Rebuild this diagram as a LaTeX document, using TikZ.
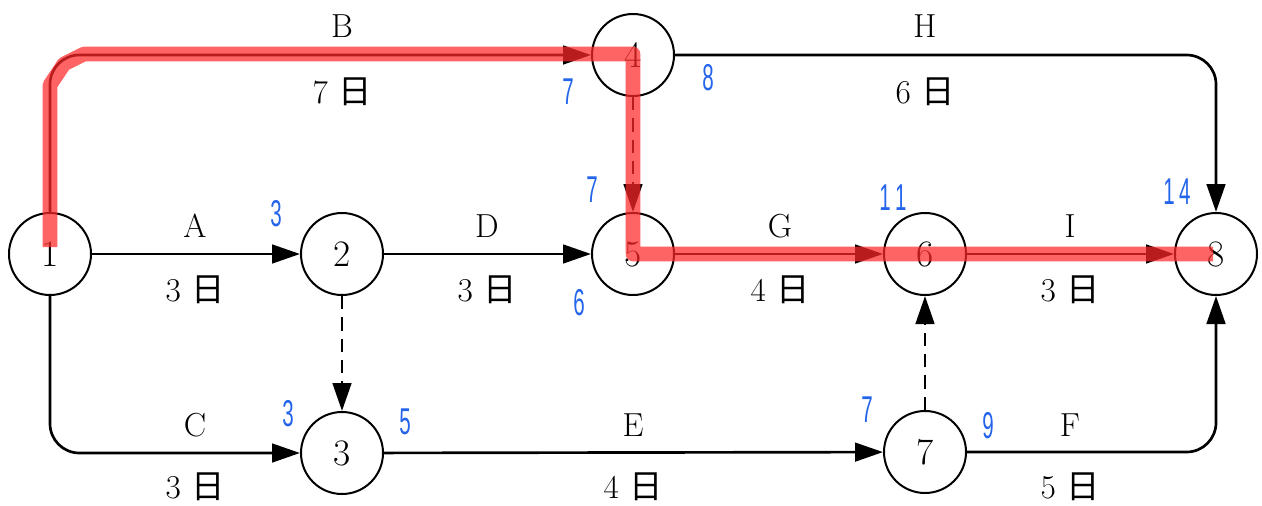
\documentclass[tikz,border=0pt]{standalone}
\usepackage{fontspec}
\newfontfamily\cjk{Noto Sans CJK JP}
\newfontfamily\numfont{Liberation Sans}
\usetikzlibrary{arrows.meta}
\definecolor{numblue}{RGB}{35,100,235}
\definecolor{critred}{RGB}{255,40,40}
\newcommand\bluenum[1]{\scalebox{0.55}[1]{#1}}
\begin{document}
\begin{tikzpicture}[x=0.75pt,y=-0.75pt,
  ev/.style={circle,draw,line width=1.5pt,minimum size=61.5pt,inner sep=0pt,font=\fontsize{28}{30}\selectfont},
  act/.style={line width=2pt,-{Triangle[length=21pt,width=14pt]}},
  dummy/.style={act,dash pattern=on 10pt off 6pt},
  lbl/.style={font=\fontsize{25}{27}\selectfont,inner sep=0pt},
  num/.style={text=numblue,font=\fontsize{28}{30}\numfont,inner sep=0pt},
  critpath/.style={draw=critred,opacity=0.72,line width=11pt,line join=round}
]
\useasboundingbox (0,0) rectangle (1262,506);
% events
\node[ev] (n1) at (50,254) {1};
\node[ev] (n2) at (342,254) {2};
\node[ev] (n5) at (633,254) {5};
\node[ev] (n6) at (925,254) {6};
\node[ev] (n8) at (1216,254) {8};
\node[ev] (n4) at (633,55) {4};
\node[ev] (n3) at (342,453) {3};
\node[ev] (n7) at (925,452) {7};
% activities
\draw[act] (n1) -- (n2);
\draw[act] (n2) -- (n5);
\draw[act] (n5) -- (n6);
\draw[act] (n6) -- (n8);
\draw[act] (n3) -- (n7);
\draw[act,rounded corners=22pt] (n1.north) |- (n4.west);
\draw[act,rounded corners=22pt] (n4.east) -| (n8.north);
\draw[act,rounded corners=22pt] (n1.south) |- (n3.west);
\draw[act,rounded corners=22pt] (n7.east) -| (n8.south);
\draw[dummy] (n2) -- (n3);
\draw[dummy] (n4) -- (n5);
\draw[dummy] (n7) -- (n6);
% activity labels
\node[lbl] (lB) at (342,26) {B};
\node[lbl] (dB) at (342,92) {7 {\cjk 日}};
\node[lbl] (lH) at (925,26) {H};
\node[lbl] (dH) at (925,92) {6 {\cjk 日}};
\node[lbl] (lA) at (195,226) {A};
\node[lbl] (dA) at (195,290) {3 {\cjk 日}};
\node[lbl] (lD) at (487,226) {D};
\node[lbl] (dD) at (487,290) {3 {\cjk 日}};
\node[lbl] (lG) at (780,226) {G};
\node[lbl] (dG) at (780,290) {4 {\cjk 日}};
\node[lbl] (lI) at (1070,226) {I};
\node[lbl] (dI) at (1070,290) {3 {\cjk 日}};
\node[lbl] (lC) at (195,425) {C};
\node[lbl] (dC) at (195,487) {3 {\cjk 日}};
\node[lbl] (lE) at (633,425) {E};
\node[lbl] (dE) at (633,487) {4 {\cjk 日}};
\node[lbl] (lF) at (1070,425) {F};
\node[lbl] (dF) at (1070,487) {5 {\cjk 日}};
% times
\node[num] (t4a) at (568,92) {\bluenum{7}};
\node[num] (t4b) at (708,78) {\bluenum{8}};
\node[num] (t5a) at (592,190) {\bluenum{7}};
\node[num] (t5b) at (579,303) {\bluenum{6}};
\node[num] (t2a) at (276,214) {\bluenum{3}};
\node[num] (t6a) at (893,198) {\bluenum{1\hspace{6pt}1}};
\node[num] (t8a) at (1177,192) {\bluenum{1\hspace{6pt}4}};
\node[num] (t3a) at (288,414) {\bluenum{3}};
\node[num] (t3b) at (405,422) {\bluenum{5}};
\node[num] (t7a) at (867,410) {\bluenum{7}};
\node[num] (t7b) at (988,426) {\bluenum{9}};
% critical path
\coordinate (cp0) at (50,247);
\coordinate (cp1) at (50,85);
\coordinate (cp2) at (64,64);
\coordinate (cp3) at (84,54);
\coordinate (cp4) at (633,54);
\coordinate (cp5) at (633,254);
\coordinate (cp6) at (1213,254);
\draw[critpath] (cp0) -- (cp1) -- (cp2) -- (cp3) -- (cp4) -- (cp5) -- (cp6);
\end{tikzpicture}
\end{document}
